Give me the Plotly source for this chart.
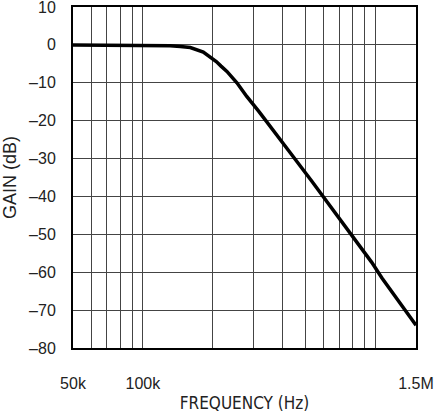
import plotly.graph_objects as go

# Courbe de gain
freq_hz = [50e3, 100e3, 131e3, 145e3, 160e3, 182e3, 195e3, 207e3, 217e3, 230e3,
           254e3, 280e3, 315e3, 347e3, 423e3, 534e3, 640e3, 748e3, 861e3, 967e3,
           1.07e6, 1.5e6]
gain_db = [0, 0, -0.2, -0.4, -0.7, -1.9, -3.1, -4.4, -5.6, -7,
           -10, -13.6, -17.5, -21, -27.8, -36, -42.5, -48.2, -53.1, -57.4,
           -61.5, -74]

# Graduations
x_grid = [50e3, 60e3, 70e3, 80e3, 90e3, 100e3, 200e3, 300e3, 400e3, 500e3,
          600e3, 700e3, 800e3, 900e3, 1e6, 1.5e6]
x_labels = ["50k", "", "", "", "", "100k", "", "", "", "",
            "", "", "", "", "", "1.5M"]
y_ticks = [10, 0, -10, -20, -30, -40, -50, -60, -70, -80]
y_labels = ["10", "0", "–10", "–20", "–30", "–40", "–50", "–60", "–70", "–80"]

police = "Liberation Sans, Arial, sans-serif"
couleur_texte = "#222"

fig = go.Figure()
fig.add_trace(go.Scatter(x=freq_hz, y=gain_db, mode="lines",
                         line=dict(color="black", width=3.5),
                         showlegend=False, hoverinfo="skip"))

fig.update_xaxes(type="log", range=[4.69897, 6.176091], automargin=False,
                 tickvals=x_grid, ticktext=x_labels, ticks="",
                 ticklabelstandoff=20, ticklabeloverflow="allow",
                 showgrid=True, gridcolor="#444", gridwidth=1,
                 showline=True, linecolor="black", linewidth=2, mirror=True,
                 zeroline=False,
                 tickfont=dict(family=police, size=16, color=couleur_texte),
                 title=dict(text="FREQUENCY (Hz)", standoff=6,
                            font=dict(family="Liberation Sans Narrow, DejaVu Sans Condensed, Liberation Sans",
                                      size=17, color=couleur_texte)))
fig.update_yaxes(range=[-80, 10], automargin=False,
                 tickvals=y_ticks, ticktext=y_labels, ticks="",
                 ticklabelstandoff=12, ticklabeloverflow="allow",
                 showgrid=True, gridcolor="#444", gridwidth=1,
                 showline=True, linecolor="black", linewidth=2, mirror=True,
                 zeroline=False,
                 tickfont=dict(family=police, size=16, color=couleur_texte),
                 title=dict(text="GAIN (dB)", standoff=8,
                            font=dict(family=police, size=18, color=couleur_texte)))

fig.update_layout(width=435, height=413,
                  margin=dict(l=73, r=19, t=7, b=65),
                  paper_bgcolor="white", plot_bgcolor="white")

# marge par défaut du navigateur retirée pour que la figure colle au bord
fig.write_html("out.html", config={"displayModeBar": False},
               post_script="document.body.style.margin='0px';")
